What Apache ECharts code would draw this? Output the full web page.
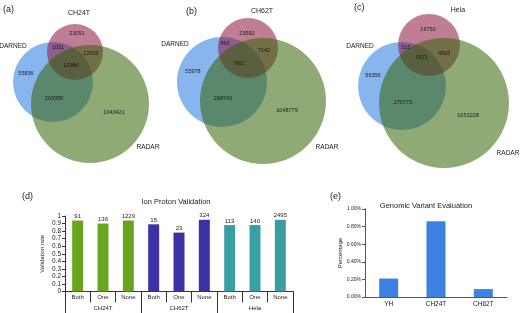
<!DOCTYPE html>
<html>
<head>
<meta charset="utf-8">
<script src="https://cdn.jsdelivr.net/npm/echarts@6/dist/echarts.min.js"></script>
<style>
html, body { margin: 0; padding: 0; background: #fff; }
#main { width: 520px; height: 313px; }
</style>
</head>
<body>
<div id="main"></div>
<script>
// ---- data ----
var vennSamples = ['CH24T', 'CH62T', 'Hela'];
// region counts: DARNED only, sample only, RADAR only, DARNED&sample, sample&RADAR, DARNED&RADAR, all three
var vennCH24T = [55836, 23051, 1043421, 1031, 12500, 263358, 12986];
var vennCH62T = [55978, 23592, 1048779, 893, 7142, 268743, 7601];
var vennHela = [56356, 16750, 1051028, 515, 4893, 270773, 5571];

var subCats = ['Both', 'One', 'None'];
var groupCats = ['CH24T', 'CH62T', 'Hela'];
var validationRate = [0.94, 0.90, 0.94, 0.89, 0.78, 0.95, 0.88, 0.88, 0.95];
var validationCount = [91, 136, 1229, 15, 23, 324, 113, 140, 2495];
var rateTicks = ['0', '0.1', '0.2', '0.3', '0.4', '0.5', '0.6', '0.7', '0.8', '0.9', '1'];

var genomicCats = ['YH', 'CH24T', 'CH62T'];
var genomicPct = [0.21, 0.86, 0.09];

// ---- layout (panel-local units, 1 unit = 1px) ----
var FONT = 'Liberation Sans';
var vennLayout = [
	{ left: 0, circles: [[53, 82, 40], [75, 52, 28], [90, 104, 59]],
	  names: [[13, 46], [79, 13], [148, 147]],
	  regions: [[26, 73], [77, 33], [114, 112], [58, 47], [91, 53], [54, 98], [71, 65]] },
	{ left: 170, circles: [[52, 82, 45], [78, 48, 30], [93, 101, 63]],
	  names: [[5, 44], [92, 11], [157, 147]],
	  regions: [[23, 71], [77, 33], [117, 110], [55, 43], [94, 50], [53, 98], [69, 63]] },
	{ left: 340, circles: [[62, 86, 44], [89, 45, 31], [104, 103, 65]],
	  names: [[20, 46], [118, 10], [168, 153]],
	  regions: [[33, 75], [88, 29], [128, 115], [66, 47], [104, 53], [63, 102], [82, 57]] }
];
// draw order blue, red, green
var vennFill = ['rgb(135,182,238)', 'rgba(140,20,60,0.55)', 'rgba(50,98,0,0.54)'];
var groupColors = ['#69a51f', '#3d31a6', '#3a9ea5'];

var chart = echarts.init(document.getElementById('main'));

var grids = [
	{ left: 65, right: 227, top: 216, bottom: 21.5 },
	{ left: 365, right: 13, top: 209, bottom: 16 }
];
var xAxes = [
	{
		type: 'category', gridIndex: 0, position: 'bottom',
		data: validationRate.map(function (v, i) { return groupCats[Math.floor(i / 3)] + '|' + subCats[i % 3]; }),
		axisLine: { lineStyle: { color: '#333', width: 1 } },
		axisTick: { show: true, interval: 0, length: 11, lineStyle: { color: '#333' } },
		axisLabel: { interval: 0, margin: 3, fontSize: 6, color: '#222', fontFamily: FONT,
			formatter: function (v) { return v.split('|')[1]; } }
	},
	{
		type: 'category', gridIndex: 0, position: 'bottom',
		data: groupCats,
		axisLine: { show: false },
		axisTick: { show: true, interval: 0, length: 21.5, lineStyle: { color: '#333' } },
		axisLabel: { interval: 0, margin: 14, fontSize: 6, color: '#222', fontFamily: FONT }
	},
	{
		type: 'category', gridIndex: 1, data: genomicCats,
		axisLine: { lineStyle: { color: '#555' } },
		axisTick: { show: false },
		axisLabel: { margin: 4, fontSize: 6.5, color: '#222', fontFamily: FONT }
	}
];
var yAxes = [
	{
		type: 'value', gridIndex: 0, min: 0, max: 1, interval: 0.1,
		name: 'Validation rate', nameLocation: 'middle', nameGap: 20, nameRotate: 90,
		nameTextStyle: { fontSize: 6, color: '#222', fontFamily: FONT },
		splitLine: { show: false },
		axisLine: { show: true, lineStyle: { color: '#333' } },
		axisTick: { show: true, length: 3, lineStyle: { color: '#333' } },
		axisLabel: { margin: 4, fontSize: 6.5, color: '#222', fontFamily: FONT,
			formatter: function (v) { return rateTicks[Math.round(v * 10)]; } }
	},
	{
		type: 'value', gridIndex: 1, min: 0, max: 1, interval: 0.2,
		name: 'Percentage', nameLocation: 'middle', nameGap: 20, nameRotate: 90,
		nameTextStyle: { fontSize: 6, color: '#222', fontFamily: FONT },
		splitLine: { show: false },
		axisLine: { show: true, lineStyle: { color: '#555' } },
		axisTick: { show: true, length: 3, lineStyle: { color: '#555' } },
		axisLabel: { margin: 4, fontSize: 5, color: '#222', fontFamily: FONT,
			formatter: function (v) { return v.toFixed(2) + '%'; } }
	}
];

var series = [
	{
		type: 'bar', xAxisIndex: 0, yAxisIndex: 0, barWidth: 11,
		data: validationRate.map(function (v, i) {
			return { value: v, itemStyle: { color: groupColors[Math.floor(i / 3)] } };
		}),
		label: { show: true, position: 'top', distance: 1, fontSize: 6, color: '#222', fontFamily: FONT,
			formatter: function (p) { return validationCount[p.dataIndex]; } }
	},
	{
		type: 'bar', xAxisIndex: 2, yAxisIndex: 1, barWidth: 19,
		itemStyle: { color: '#3c82e2' },
		data: genomicPct
	}
];

var vennCounts = [vennCH24T, vennCH62T, vennHela];
vennLayout.forEach(function (lay, k) {
	var gi = grids.length;
	grids.push({ left: lay.left, top: 0, width: 175, height: 175 });
	xAxes.push({ type: 'value', gridIndex: gi, min: 0, max: 175, show: false });
	yAxes.push({ type: 'value', gridIndex: gi, min: 0, max: 175, inverse: true, show: false });
	var xi = xAxes.length - 1, yi = yAxes.length - 1;
	series.push({
		type: 'custom', xAxisIndex: xi, yAxisIndex: yi, clip: false, silent: true,
		data: lay.circles.map(function (c, j) { return [c[0], c[1], c[2], j]; }),
		renderItem: function (params, api) {
			var p = api.coord([api.value(0), api.value(1)]);
			var r = api.size([api.value(2), 0])[0];
			return { type: 'circle', shape: { cx: p[0], cy: p[1], r: r },
				style: { fill: vennFill[api.value(3)] } };
		}
	});
	var names = ['DARNED', vennSamples[k], 'RADAR'];
	var texts = [];
	lay.names.forEach(function (pt, j) { texts.push([pt[0], pt[1], names[j], j === 1 ? 7 : 6.5]); });
	lay.regions.forEach(function (pt, j) { texts.push([pt[0], pt[1], String(vennCounts[k][j]), 5.5]); });
	series.push({
		type: 'custom', xAxisIndex: xi, yAxisIndex: yi, clip: false, silent: true, z: 5,
		data: texts,
		renderItem: function (params, api) {
			var d = texts[params.dataIndex];
			var p = api.coord([d[0], d[1]]);
			return { type: 'text', x: p[0], y: p[1],
				style: { text: d[2], fontSize: d[3], fontFamily: FONT, fill: '#1a1a1a',
					align: 'center', verticalAlign: 'middle' } };
		}
	});
});

var panelTitle = function (text, left, top, size) {
	return { text: text, left: left, top: top, padding: 0,
		textStyle: { fontSize: size, fontWeight: 'normal', color: '#222', fontFamily: FONT } };
};

chart.setOption({
	animation: false,
	backgroundColor: '#fff',
	title: [
		panelTitle('(a)', 3, 5, 9),
		panelTitle('(b)', 186, 7, 9),
		panelTitle('(c)', 354, 3, 9),
		panelTitle('(d)', 22, 192, 9),
		panelTitle('(e)', 330, 192, 9),
		{ text: 'Ion Proton Validation', left: 176, top: 198, textAlign: 'center', padding: 0,
		  textStyle: { fontSize: 7.5, fontWeight: 'normal', color: '#222', fontFamily: FONT } },
		{ text: 'Genomic Variant Evaluation', left: 426, top: 202, textAlign: 'center', padding: 0,
		  textStyle: { fontSize: 7.5, fontWeight: 'normal', color: '#222', fontFamily: FONT } }
	],
	grid: grids,
	xAxis: xAxes,
	yAxis: yAxes,
	series: series
});
</script>
</body>
</html>
